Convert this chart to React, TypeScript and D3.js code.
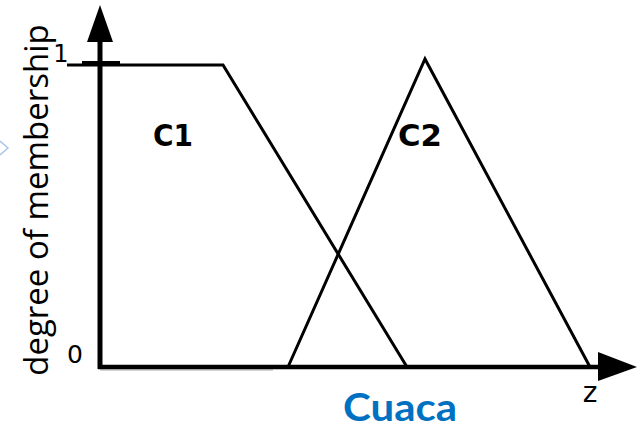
import React from "react";
import * as d3 from "d3";

const W = 638;
const H = 430;

// membership functions (z units, membership)
const c1Z = [-3.3, 12.3, 30.7];
const c1Mu = [1, 1, 0];
const c2Z = [18.8, 32.5, 49];
const c2Mu = [0, 1.02, 0];
const setLabels = ["C1", "C2"];
const setLabelZ = [7.3, 32.0];
const setLabelMu = [0.732, 0.732];
const yTickValues = [0, 1];
const yTickLabels = ["0", "1"];
const xAxisLabel = "z";
const yAxisLabel = "degree of membership";
const title = "Cuaca";

export default function App() {
  const x = d3.scaleLinear().domain([0, 49]).range([100, 590]);
  const y = d3.scaleLinear().domain([0, 1]).range([367, 65]);
  const line = d3
    .line<[number, number]>()
    .x((d) => x(d[0]))
    .y((d) => y(d[1]));
  const c1 = c1Z.map((z, i) => [z, c1Mu[i]] as [number, number]);
  const c2 = c2Z.map((z, i) => [z, c2Mu[i]] as [number, number]);
  const x0 = x(0);
  const y0 = y(0);
  return (
    <svg
      width={W}
      height={H}
      style={{ position: "absolute", left: 0, top: 0, background: "#fff" }}
    >
      {/* faint chevron at left */}
      <polyline
        points="0,141 8,148 0,155"
        fill="none"
        stroke="#a9c4e4"
        strokeWidth={1.5}
      />
      {/* membership functions */}
      <path d={line(c1) || ""} fill="none" stroke="#000" strokeWidth={3} />
      <path d={line(c2) || ""} fill="none" stroke="#000" strokeWidth={3} />
      {/* gray shadow under x axis */}
      <line x1={x0} x2={273} y1={y0 + 3} y2={y0 + 3} stroke="#aaa" strokeWidth={1} />
      {/* axes */}
      <line x1={x0} x2={x0} y1={y0 + 2} y2={38} stroke="#000" strokeWidth={5} />
      <line x1={x0 - 2} x2={600} y1={y0} y2={y0} stroke="#000" strokeWidth={4.5} />
      <polygon points={`${x0},5 ${x0 - 13},42 ${x0 + 13},42`} fill="#000" />
      <polygon points={`637,${y0} 598,${y0 - 15} 598,${y0 + 14}`} fill="#000" />
      {/* tick at 1 */}
      <line x1={82} x2={120} y1={y(1) - 2} y2={y(1) - 2} stroke="#000" strokeWidth={4} />
      {/* tick labels */}
      {yTickValues.map((v, i) => (
        <text
          key={i}
          x={v === 1 ? 61 : 75}
          y={v === 1 ? y(v) - 3 : y(v) - 4}
          textAnchor="middle"
          fontFamily="DejaVu Sans"
          fontSize={v === 1 ? 24 : 25}
          fill="#000"
        >
          {yTickLabels[i]}
        </text>
      ))}
      <text
        x={590}
        y={402}
        textAnchor="middle"
        fontFamily="DejaVu Sans"
        fontSize={28}
        fill="#000"
      >
        {xAxisLabel}
      </text>
      {/* y axis title */}
      <text
        transform={`translate(48,200) rotate(-90)`}
        textAnchor="middle"
        fontFamily="Open Sans"
        fontSize={33}
        fill="#000"
      >
        {yAxisLabel}
      </text>
      {/* set labels */}
      {setLabels.map((s, i) => (
        <text
          key={s}
          x={x(setLabelZ[i])}
          y={y(setLabelMu[i])}
          textAnchor="middle"
          fontFamily="DejaVu Sans"
          fontWeight="bold"
          fontSize={31}
          textLength={i === 0 ? 40 : 44}
          lengthAdjust="spacingAndGlyphs"
          fill="#000"
        >
          {s}
        </text>
      ))}
      <text
        x={400}
        y={421}
        textAnchor="middle"
        fontFamily="Lato"
        fontWeight="bold"
        fontSize={38}
        textLength={114}
        lengthAdjust="spacingAndGlyphs"
        fill="#0070C0"
      >
        {title}
      </text>
    </svg>
  );
}
